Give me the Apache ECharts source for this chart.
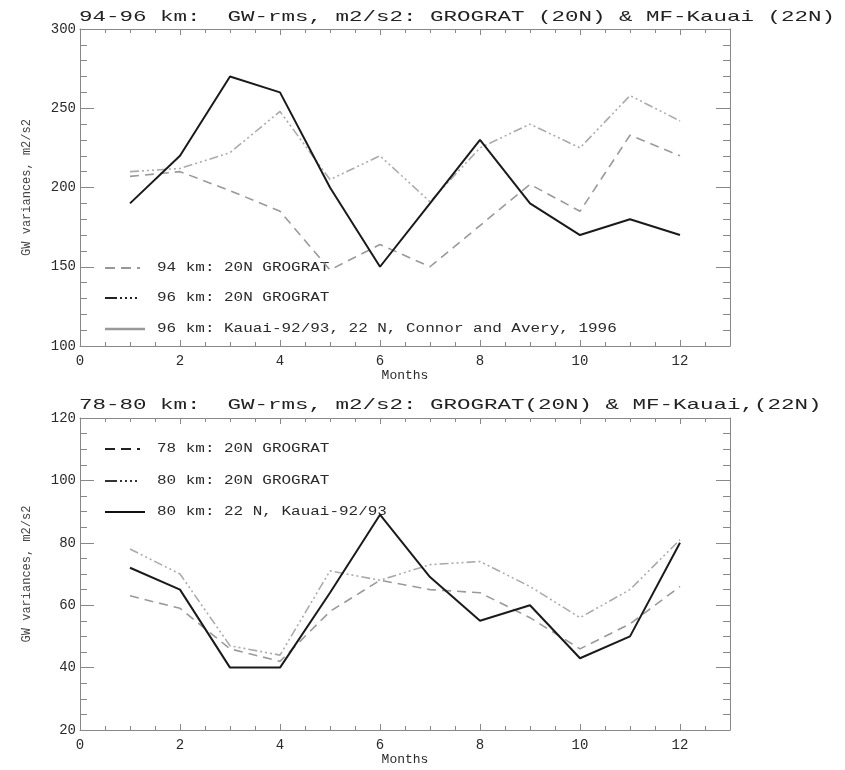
<!DOCTYPE html>
<html><head><meta charset="utf-8">
<script src="https://cdn.jsdelivr.net/npm/echarts@6/dist/echarts.min.js"></script>
<style>html,body{margin:0;padding:0;background:#fff}#c{width:845px;height:770px}</style>
</head><body><div id="c"></div>
<script>
const months = [1,2,3,4,5,6,7,8,9,10,11,12];
const xTicks = [0,2,4,6,8,10,12];
// top panel (94-96 km)
const top94 = [207,210,198,185,148,164,150,176,202,185,233,220];
const top96 = [210,212,222,248,205,220,191,225,240,225,258,242];
const topKauai = [190,220,270,260,200,150,190,230,190,170,180,170];
// bottom panel (78-80 km)
const bot78 = [63,59,46,42,58,68,65,64,56,46,54,66];
const bot80 = [78,70,47,44,71,68,73,74,66,56,65,81];
const bot80k = [72,65,40,40,64,89,69,55,60,43,50,80];

const titles = ["94-96 km:  GW-rms, m2/s2: GROGRAT (20N) & MF-Kauai (22N)",
                "78-80 km:  GW-rms, m2/s2: GROGRAT(20N) & MF-Kauai,(22N)"];
const topNames = ["94 km: 20N GROGRAT","96 km: 20N GROGRAT","96 km: Kauai-92/93, 22 N, Connor and Avery, 1996"];
const botNames = ["78 km: 20N GROGRAT","80 km: 20N GROGRAT","80 km: 22 N, Kauai-92/93"];
const yName = "GW variances, m2/s2";
const xName = "Months";

const FONT = '"Liberation Mono", "DejaVu Sans Mono", monospace';
const AX = '#888';
const grids = [
  {left:80, right:115, top:29, height:317},
  {left:80, right:115, top:418, height:312}
];
const yRanges = [{min:100,max:300,interval:50,minor:5},{min:20,max:120,interval:20,minor:4}];

const xAxis = [], yAxis = [];
[0,1].forEach(g=>{
  ['bottom','top'].forEach(pos=>{
    xAxis.push({gridIndex:g,type:'value',min:0,max:13,interval:2,position:pos,
      axisLine:{show:true,onZero:false,lineStyle:{color:AX,width:1}},
      axisTick:{show:true,inside:true,length:6,lineStyle:{color:AX}},
      axisLabel:{show:pos==='bottom',margin:8,fontFamily:FONT,fontSize:14,color:'#2a2a2a',
        formatter:v=>xTicks.indexOf(v)>=0?String(v):''},
      splitLine:{show:false},
      name:pos==='bottom'?xName:'',nameLocation:'middle',nameGap:22,
      nameTextStyle:{fontFamily:FONT,fontSize:13,color:'#2a2a2a'}});
    xAxis.push({gridIndex:g,type:'value',min:0,max:13,interval:0.5,position:pos,
      axisLine:{show:false,onZero:false},
      axisTick:{show:true,inside:true,length:4,lineStyle:{color:AX}},
      axisLabel:{show:false},splitLine:{show:false}});
  });
  ['left','right'].forEach(pos=>{
    const r = yRanges[g];
    yAxis.push({gridIndex:g,type:'value',min:r.min,max:r.max,interval:r.interval,position:pos,
      axisLine:{show:true,onZero:false,lineStyle:{color:AX,width:1}},
      axisTick:{show:true,inside:true,length:14,lineStyle:{color:AX}},
      minorTick:{show:true,splitNumber:r.minor,length:7,lineStyle:{color:AX}},
      axisLabel:{show:pos==='left',margin:4,fontFamily:FONT,fontSize:14,color:'#2a2a2a'},
      splitLine:{show:false},minorSplitLine:{show:false},
      name:pos==='left'?yName:'',nameLocation:'middle',nameGap:47,
      nameTextStyle:{fontFamily:FONT,fontSize:12,color:'#444'}});
  });
});

const DASH = [9,6];
const DDD = [9,3,2,3,2,3,2,3];
function mk(name, vals, g, color, width, dash){
  return {name, type:'line', xAxisIndex:g*4, yAxisIndex:g*2,
    data: months.map((m,i)=>[m, vals[i]]), symbol:'none', silent:true,
    lineStyle:{color, width, type: dash || 'solid'}};
}
const series = [
  mk(topNames[0], top94, 0, '#9a9a9a', 1.6, DASH),
  mk(topNames[1], top96, 0, '#ababab', 1.6, DDD),
  mk(topNames[2], topKauai, 0, '#1a1a1a', 2, null),
  mk(botNames[0], bot78, 1, '#9a9a9a', 1.6, DASH),
  mk(botNames[1], bot80, 1, '#ababab', 1.6, DDD),
  mk(botNames[2], bot80k, 1, '#1a1a1a', 2, null)
];

const graphic = [];
function titleText(t, y){
  graphic.push({type:'text', x:79, y:y, scaleX:1.5, silent:true,
    style:{text:t, font:'15px '+FONT, fill:'#222', align:'left', verticalAlign:'middle'}});
}
titleText(titles[0], 17);
titleText(titles[1], 405);
function legendRow(y, name, color, dash, lw){
  graphic.push({type:'line', silent:true, shape:{x1:105,y1:y,x2:145,y2:y},
    style:{stroke:color, lineWidth:lw, lineDash:dash}});
  graphic.push({type:'text', x:157, y:y, scaleX:1.33, silent:true,
    style:{text:name, font:'12px '+FONT, fill:'#2a2a2a', align:'left', verticalAlign:'middle'}});
}
const LD1 = [10,6,10,6,3,100];
const LD2 = [12,3,2,3,2,3,2,3,2,100];
legendRow(268, topNames[0], '#999', LD1, 2);
legendRow(298, topNames[1], '#222', LD2, 2);
legendRow(329, topNames[2], '#999', null, 2.5);
legendRow(449, botNames[0], '#222', LD1, 2);
legendRow(481, botNames[1], '#333', LD2, 2);
legendRow(512, botNames[2], '#111', null, 2);

const chart = echarts.init(document.getElementById('c'), null, {renderer:'canvas'});
chart.setOption({animation:false, backgroundColor:'#fff', grid:grids, xAxis, yAxis, series, graphic});
</script></body></html>
